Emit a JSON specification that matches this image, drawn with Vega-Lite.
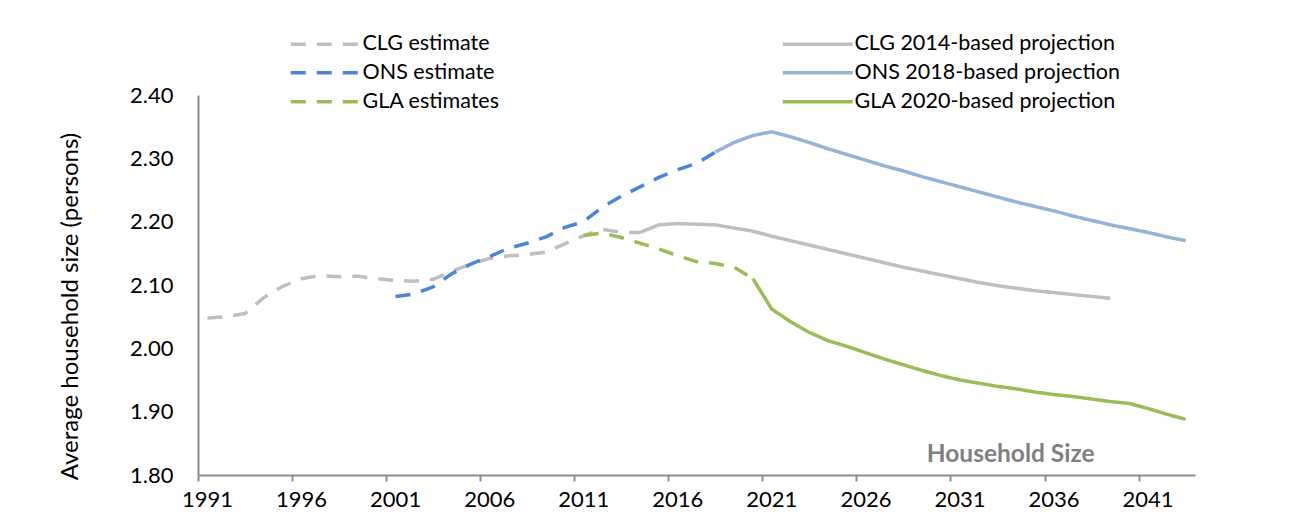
{
  "$schema": "https://vega.github.io/schema/vega-lite/v6.json",
  "width": 997,
  "height": 380,
  "autosize": {"type": "none"},
  "padding": {"left": 198, "top": 95, "right": 95, "bottom": 56},
  "background": "white",
  "config": {
    "font": "Lato",
    "view": {"stroke": null},
    "axis": {"labelFont": "Lato", "titleFont": "Lato", "grid": false}
  },
  "layer": [
    {
      "data": {
        "values": [
          {"series": "CLG estimate", "year": 1991.5, "value": 2.048},
          {"series": "CLG estimate", "year": 1992.5, "value": 2.050},
          {"series": "CLG estimate", "year": 1993.5, "value": 2.055},
          {"series": "CLG estimate", "year": 1994.5, "value": 2.080},
          {"series": "CLG estimate", "year": 1995.5, "value": 2.098},
          {"series": "CLG estimate", "year": 1996.5, "value": 2.110},
          {"series": "CLG estimate", "year": 1997.5, "value": 2.115},
          {"series": "CLG estimate", "year": 1998.5, "value": 2.113},
          {"series": "CLG estimate", "year": 1999.5, "value": 2.114},
          {"series": "CLG estimate", "year": 2000.5, "value": 2.110},
          {"series": "CLG estimate", "year": 2001.5, "value": 2.107},
          {"series": "CLG estimate", "year": 2002.5, "value": 2.106},
          {"series": "CLG estimate", "year": 2003.5, "value": 2.109},
          {"series": "CLG estimate", "year": 2004.5, "value": 2.122},
          {"series": "CLG estimate", "year": 2005.5, "value": 2.133},
          {"series": "CLG estimate", "year": 2006.5, "value": 2.142},
          {"series": "CLG estimate", "year": 2007.5, "value": 2.146},
          {"series": "CLG estimate", "year": 2008.5, "value": 2.148},
          {"series": "CLG estimate", "year": 2009.5, "value": 2.152},
          {"series": "CLG estimate", "year": 2010.5, "value": 2.165},
          {"series": "CLG estimate", "year": 2011.5, "value": 2.178},
          {"series": "CLG estimate", "year": 2012.5, "value": 2.188},
          {"series": "CLG estimate", "year": 2013.5, "value": 2.183},
          {"series": "CLG estimate", "year": 2014.5, "value": 2.183},

          {"series": "CLG 2014-based projection", "year": 2014.5, "value": 2.183},
          {"series": "CLG 2014-based projection", "year": 2015.5, "value": 2.195},
          {"series": "CLG 2014-based projection", "year": 2016.5, "value": 2.197},
          {"series": "CLG 2014-based projection", "year": 2017.5, "value": 2.196},
          {"series": "CLG 2014-based projection", "year": 2018.5, "value": 2.195},
          {"series": "CLG 2014-based projection", "year": 2019.5, "value": 2.190},
          {"series": "CLG 2014-based projection", "year": 2020.5, "value": 2.185},
          {"series": "CLG 2014-based projection", "year": 2021.5, "value": 2.177},
          {"series": "CLG 2014-based projection", "year": 2022.5, "value": 2.170},
          {"series": "CLG 2014-based projection", "year": 2023.5, "value": 2.163},
          {"series": "CLG 2014-based projection", "year": 2024.5, "value": 2.156},
          {"series": "CLG 2014-based projection", "year": 2025.5, "value": 2.149},
          {"series": "CLG 2014-based projection", "year": 2026.5, "value": 2.142},
          {"series": "CLG 2014-based projection", "year": 2027.5, "value": 2.135},
          {"series": "CLG 2014-based projection", "year": 2028.5, "value": 2.128},
          {"series": "CLG 2014-based projection", "year": 2029.5, "value": 2.122},
          {"series": "CLG 2014-based projection", "year": 2030.5, "value": 2.116},
          {"series": "CLG 2014-based projection", "year": 2031.5, "value": 2.110},
          {"series": "CLG 2014-based projection", "year": 2032.5, "value": 2.104},
          {"series": "CLG 2014-based projection", "year": 2033.5, "value": 2.099},
          {"series": "CLG 2014-based projection", "year": 2034.5, "value": 2.095},
          {"series": "CLG 2014-based projection", "year": 2035.5, "value": 2.091},
          {"series": "CLG 2014-based projection", "year": 2036.5, "value": 2.088},
          {"series": "CLG 2014-based projection", "year": 2037.5, "value": 2.085},
          {"series": "CLG 2014-based projection", "year": 2038.5, "value": 2.082},
          {"series": "CLG 2014-based projection", "year": 2039.5, "value": 2.079},

          {"series": "ONS estimate", "year": 2001.5, "value": 2.082},
          {"series": "ONS estimate", "year": 2002.5, "value": 2.086},
          {"series": "ONS estimate", "year": 2003.5, "value": 2.097},
          {"series": "ONS estimate", "year": 2004.5, "value": 2.118},
          {"series": "ONS estimate", "year": 2005.5, "value": 2.133},
          {"series": "ONS estimate", "year": 2006.5, "value": 2.145},
          {"series": "ONS estimate", "year": 2007.5, "value": 2.158},
          {"series": "ONS estimate", "year": 2008.5, "value": 2.166},
          {"series": "ONS estimate", "year": 2009.5, "value": 2.176},
          {"series": "ONS estimate", "year": 2010.5, "value": 2.191},
          {"series": "ONS estimate", "year": 2011.5, "value": 2.200},
          {"series": "ONS estimate", "year": 2012.5, "value": 2.223},
          {"series": "ONS estimate", "year": 2013.5, "value": 2.240},
          {"series": "ONS estimate", "year": 2014.5, "value": 2.255},
          {"series": "ONS estimate", "year": 2015.5, "value": 2.270},
          {"series": "ONS estimate", "year": 2016.5, "value": 2.282},
          {"series": "ONS estimate", "year": 2017.5, "value": 2.292},
          {"series": "ONS estimate", "year": 2018.5, "value": 2.310},

          {"series": "ONS 2018-based projection", "year": 2018.5, "value": 2.310},
          {"series": "ONS 2018-based projection", "year": 2019.5, "value": 2.325},
          {"series": "ONS 2018-based projection", "year": 2020.5, "value": 2.336},
          {"series": "ONS 2018-based projection", "year": 2021.5, "value": 2.342},
          {"series": "ONS 2018-based projection", "year": 2022.5, "value": 2.334},
          {"series": "ONS 2018-based projection", "year": 2023.5, "value": 2.325},
          {"series": "ONS 2018-based projection", "year": 2024.5, "value": 2.315},
          {"series": "ONS 2018-based projection", "year": 2025.5, "value": 2.306},
          {"series": "ONS 2018-based projection", "year": 2026.5, "value": 2.297},
          {"series": "ONS 2018-based projection", "year": 2027.5, "value": 2.288},
          {"series": "ONS 2018-based projection", "year": 2028.5, "value": 2.280},
          {"series": "ONS 2018-based projection", "year": 2029.5, "value": 2.271},
          {"series": "ONS 2018-based projection", "year": 2030.5, "value": 2.263},
          {"series": "ONS 2018-based projection", "year": 2031.5, "value": 2.255},
          {"series": "ONS 2018-based projection", "year": 2032.5, "value": 2.247},
          {"series": "ONS 2018-based projection", "year": 2033.5, "value": 2.239},
          {"series": "ONS 2018-based projection", "year": 2034.5, "value": 2.231},
          {"series": "ONS 2018-based projection", "year": 2035.5, "value": 2.224},
          {"series": "ONS 2018-based projection", "year": 2036.5, "value": 2.217},
          {"series": "ONS 2018-based projection", "year": 2037.5, "value": 2.209},
          {"series": "ONS 2018-based projection", "year": 2038.5, "value": 2.202},
          {"series": "ONS 2018-based projection", "year": 2039.5, "value": 2.195},
          {"series": "ONS 2018-based projection", "year": 2040.5, "value": 2.189},
          {"series": "ONS 2018-based projection", "year": 2041.5, "value": 2.183},
          {"series": "ONS 2018-based projection", "year": 2042.5, "value": 2.176},
          {"series": "ONS 2018-based projection", "year": 2043.5, "value": 2.170},

          {"series": "GLA estimates", "year": 2011.5, "value": 2.178},
          {"series": "GLA estimates", "year": 2012.5, "value": 2.182},
          {"series": "GLA estimates", "year": 2013.5, "value": 2.175},
          {"series": "GLA estimates", "year": 2014.5, "value": 2.166},
          {"series": "GLA estimates", "year": 2015.5, "value": 2.157},
          {"series": "GLA estimates", "year": 2016.5, "value": 2.146},
          {"series": "GLA estimates", "year": 2017.5, "value": 2.137},
          {"series": "GLA estimates", "year": 2018.5, "value": 2.134},
          {"series": "GLA estimates", "year": 2019.5, "value": 2.128},
          {"series": "GLA estimates", "year": 2020.5, "value": 2.110},

          {"series": "GLA 2020-based projection", "year": 2020.5, "value": 2.110},
          {"series": "GLA 2020-based projection", "year": 2021.5, "value": 2.062},
          {"series": "GLA 2020-based projection", "year": 2022.5, "value": 2.042},
          {"series": "GLA 2020-based projection", "year": 2023.5, "value": 2.025},
          {"series": "GLA 2020-based projection", "year": 2024.5, "value": 2.012},
          {"series": "GLA 2020-based projection", "year": 2025.5, "value": 2.003},
          {"series": "GLA 2020-based projection", "year": 2026.5, "value": 1.993},
          {"series": "GLA 2020-based projection", "year": 2027.5, "value": 1.983},
          {"series": "GLA 2020-based projection", "year": 2028.5, "value": 1.974},
          {"series": "GLA 2020-based projection", "year": 2029.5, "value": 1.965},
          {"series": "GLA 2020-based projection", "year": 2030.5, "value": 1.957},
          {"series": "GLA 2020-based projection", "year": 2031.5, "value": 1.950},
          {"series": "GLA 2020-based projection", "year": 2032.5, "value": 1.945},
          {"series": "GLA 2020-based projection", "year": 2033.5, "value": 1.940},
          {"series": "GLA 2020-based projection", "year": 2034.5, "value": 1.936},
          {"series": "GLA 2020-based projection", "year": 2035.5, "value": 1.931},
          {"series": "GLA 2020-based projection", "year": 2036.5, "value": 1.927},
          {"series": "GLA 2020-based projection", "year": 2037.5, "value": 1.924},
          {"series": "GLA 2020-based projection", "year": 2038.5, "value": 1.920},
          {"series": "GLA 2020-based projection", "year": 2039.5, "value": 1.916},
          {"series": "GLA 2020-based projection", "year": 2040.5, "value": 1.913},
          {"series": "GLA 2020-based projection", "year": 2041.5, "value": 1.905},
          {"series": "GLA 2020-based projection", "year": 2042.5, "value": 1.896},
          {"series": "GLA 2020-based projection", "year": 2043.5, "value": 1.888}
        ]
      },
      "mark": {"type": "line", "strokeWidth": 3.5, "interpolate": "linear", "strokeCap": "butt", "strokeJoin": "round"},
      "encoding": {
        "x": {
          "field": "year", "type": "quantitative",
          "scale": {"domain": [1991, 2044], "nice": false, "zero": false},
          "axis": {
            "title": null,
            "values": [1991, 1996, 2001, 2006, 2011, 2016, 2021, 2026, 2031, 2036, 2041],
            "format": "d",
            "labelFlush": false,
            "labelOffset": 9,
            "labelFontSize": 22, "labelColor": "#000000", "labelPadding": 8,
            "domainColor": "#8c8c8c", "domainWidth": 2,
            "tickColor": "#8c8c8c", "tickWidth": 2, "tickSize": 6
          }
        },
        "y": {
          "field": "value", "type": "quantitative",
          "scale": {"domain": [1.8, 2.4], "nice": false, "zero": false},
          "axis": {
            "title": "Average household size (persons)",
            "values": [1.8, 1.9, 2.0, 2.1, 2.2, 2.3, 2.4],
            "format": ".2f",
            "labelFlush": false,
            "labelFontSize": 22, "labelColor": "#000000", "labelPadding": 25,
            "ticks": false,
            "domainColor": "#8c8c8c", "domainWidth": 2,
            "titleFontSize": 24, "titleFontWeight": "normal", "titleColor": "#000000",
            "titlePadding": 47,
            "titleY": 211
          }
        },
        "color": {
          "field": "series", "type": "nominal",
          "scale": {
            "domain": ["CLG estimate", "ONS estimate", "GLA estimates", "CLG 2014-based projection", "ONS 2018-based projection", "GLA 2020-based projection"],
            "range": ["#bfbfbf", "#4a86d8", "#9bbb59", "#bfbfbf", "#95b3d7", "#9bbb59"]
          },
          "legend": {
            "title": null,
            "orient": "none",
            "legendX": 89,
            "legendY": -62,
            "columns": 2,
            "columnPadding": 275,
            "rowPadding": 6,
            "symbolType": "M-1,0H9",
            "symbolSize": 196,
            "symbolStrokeWidth": 3.5,
            "labelFontSize": 21.5,
            "labelColor": "#000000",
            "labelOffset": 54,
            "labelLimit": 400
          }
        },
        "strokeDash": {
          "field": "series", "type": "nominal",
          "scale": {
            "domain": ["CLG estimate", "ONS estimate", "GLA estimates", "CLG 2014-based projection", "ONS 2018-based projection", "GLA 2020-based projection"],
            "range": [[15, 11], [15, 11], [15, 11], [1, 0], [1, 0], [1, 0]]
          }
        }
      }
    },
    {
      "data": {"values": [{"label": "Household Size", "year": 2034.2, "value": 1.8205}]},
      "mark": {"type": "text", "font": "Lato", "fontSize": 24.5, "fontWeight": "bold", "color": "#808080", "align": "center", "baseline": "alphabetic"},
      "encoding": {
        "x": {"field": "year", "type": "quantitative"},
        "y": {"field": "value", "type": "quantitative"},
        "text": {"field": "label"}
      }
    }
  ]
}
